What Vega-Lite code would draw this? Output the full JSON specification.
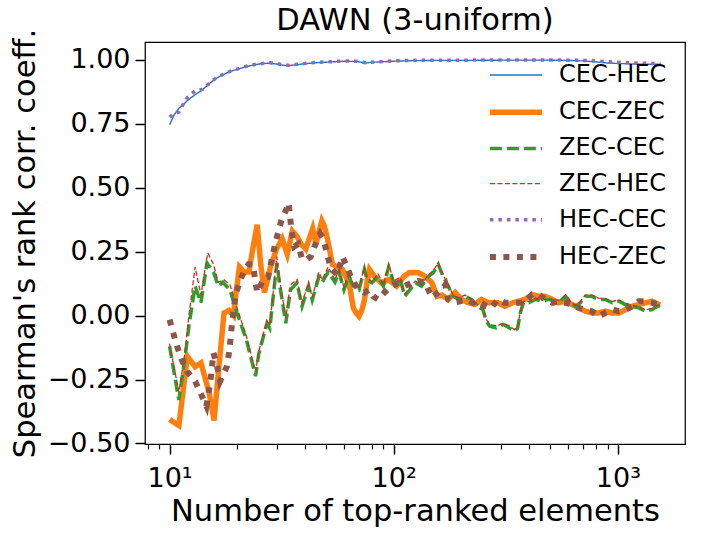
{
  "$schema": "https://vega.github.io/schema/vega-lite/v6.json",
  "width": 540,
  "height": 402,
  "autosize": "none",
  "padding": {"left": 145, "top": 42, "right": 21, "bottom": 90},
  "config": {
    "font": "DejaVu Sans",
    "view": {"stroke": "#000000", "strokeWidth": 1.25},
    "axis": {"grid": false, "domain": false, "tickColor": "#000000", "labelColor": "#000000", "titleColor": "#000000", "titleFontWeight": "normal"}
  },
  "title": {"text": "DAWN (3-uniform)", "fontSize": 30.5, "fontWeight": "normal", "font": "DejaVu Sans", "color": "#000000", "offset": 10, "dy": 18},
  "data": {"values": [
    {"s":"CEC-HEC","n":10,"v":0.746},{"s":"CEC-HEC","n":10.5,"v":0.785},{"s":"CEC-HEC","n":11,"v":0.81},{"s":"CEC-HEC","n":11.5,"v":0.824},{"s":"CEC-HEC","n":12,"v":0.84},{"s":"CEC-HEC","n":13,"v":0.863},{"s":"CEC-HEC","n":14,"v":0.882},{"s":"CEC-HEC","n":15,"v":0.905},{"s":"CEC-HEC","n":16,"v":0.925},{"s":"CEC-HEC","n":17,"v":0.938},{"s":"CEC-HEC","n":18,"v":0.948},{"s":"CEC-HEC","n":19,"v":0.956},{"s":"CEC-HEC","n":20,"v":0.962},{"s":"CEC-HEC","n":22,"v":0.973},{"s":"CEC-HEC","n":24,"v":0.98},{"s":"CEC-HEC","n":26,"v":0.985},{"s":"CEC-HEC","n":28,"v":0.986},{"s":"CEC-HEC","n":30,"v":0.983},{"s":"CEC-HEC","n":32,"v":0.978},{"s":"CEC-HEC","n":34,"v":0.977},{"s":"CEC-HEC","n":36,"v":0.979},{"s":"CEC-HEC","n":40,"v":0.984},{"s":"CEC-HEC","n":45,"v":0.988},{"s":"CEC-HEC","n":50,"v":0.99},{"s":"CEC-HEC","n":55,"v":0.992},{"s":"CEC-HEC","n":60,"v":0.994},{"s":"CEC-HEC","n":68,"v":0.993},{"s":"CEC-HEC","n":75,"v":0.987},{"s":"CEC-HEC","n":82,"v":0.99},{"s":"CEC-HEC","n":90,"v":0.992},{"s":"CEC-HEC","n":100,"v":0.994},{"s":"CEC-HEC","n":120,"v":0.996},{"s":"CEC-HEC","n":150,"v":0.997},{"s":"CEC-HEC","n":200,"v":0.997},{"s":"CEC-HEC","n":300,"v":0.998},{"s":"CEC-HEC","n":400,"v":0.998},{"s":"CEC-HEC","n":500,"v":0.998},{"s":"CEC-HEC","n":600,"v":0.997},{"s":"CEC-HEC","n":700,"v":0.995},{"s":"CEC-HEC","n":800,"v":0.991},{"s":"CEC-HEC","n":900,"v":0.987},{"s":"CEC-HEC","n":1000,"v":0.985},{"s":"CEC-HEC","n":1200,"v":0.983},{"s":"CEC-HEC","n":1400,"v":0.982},{"s":"CEC-HEC","n":1550,"v":0.982},

    {"s":"CEC-ZEC","n":10,"v":-0.406},{"s":"CEC-ZEC","n":11,"v":-0.43},{"s":"CEC-ZEC","n":12,"v":-0.16},{"s":"CEC-ZEC","n":13,"v":-0.2},{"s":"CEC-ZEC","n":13.8,"v":-0.185},{"s":"CEC-ZEC","n":15,"v":-0.3},{"s":"CEC-ZEC","n":15.8,"v":-0.41},{"s":"CEC-ZEC","n":16.6,"v":-0.2},{"s":"CEC-ZEC","n":17.5,"v":0.01},{"s":"CEC-ZEC","n":18.4,"v":0.02},{"s":"CEC-ZEC","n":19.3,"v":0.0},{"s":"CEC-ZEC","n":19.7,"v":0.075},{"s":"CEC-ZEC","n":20.5,"v":0.19},{"s":"CEC-ZEC","n":21.5,"v":0.17},{"s":"CEC-ZEC","n":22.6,"v":0.17},{"s":"CEC-ZEC","n":23.5,"v":0.26},{"s":"CEC-ZEC","n":24.6,"v":0.355},{"s":"CEC-ZEC","n":25.5,"v":0.2},{"s":"CEC-ZEC","n":26.5,"v":0.09},{"s":"CEC-ZEC","n":28.2,"v":0.19},{"s":"CEC-ZEC","n":30,"v":0.26},{"s":"CEC-ZEC","n":31.8,"v":0.3},{"s":"CEC-ZEC","n":33.5,"v":0.24},{"s":"CEC-ZEC","n":35.3,"v":0.33},{"s":"CEC-ZEC","n":37,"v":0.31},{"s":"CEC-ZEC","n":38.5,"v":0.28},{"s":"CEC-ZEC","n":40.5,"v":0.26},{"s":"CEC-ZEC","n":43.5,"v":0.34},{"s":"CEC-ZEC","n":45,"v":0.28},{"s":"CEC-ZEC","n":47.8,"v":0.37},{"s":"CEC-ZEC","n":49,"v":0.35},{"s":"CEC-ZEC","n":50.6,"v":0.3},{"s":"CEC-ZEC","n":53.3,"v":0.2},{"s":"CEC-ZEC","n":56,"v":0.19},{"s":"CEC-ZEC","n":59,"v":0.18},{"s":"CEC-ZEC","n":62,"v":0.14},{"s":"CEC-ZEC","n":64,"v":0.1},{"s":"CEC-ZEC","n":66,"v":0.03},{"s":"CEC-ZEC","n":68,"v":0.01},{"s":"CEC-ZEC","n":70,"v":-0.003},{"s":"CEC-ZEC","n":72,"v":0.02},{"s":"CEC-ZEC","n":74,"v":0.06},{"s":"CEC-ZEC","n":76,"v":0.13},{"s":"CEC-ZEC","n":78,"v":0.18},{"s":"CEC-ZEC","n":82,"v":0.153},{"s":"CEC-ZEC","n":88,"v":0.128},{"s":"CEC-ZEC","n":95,"v":0.14},{"s":"CEC-ZEC","n":103,"v":0.115},{"s":"CEC-ZEC","n":111,"v":0.153},{"s":"CEC-ZEC","n":117,"v":0.167},{"s":"CEC-ZEC","n":129,"v":0.167},{"s":"CEC-ZEC","n":138,"v":0.153},{"s":"CEC-ZEC","n":148,"v":0.128},{"s":"CEC-ZEC","n":156,"v":0.075},{"s":"CEC-ZEC","n":164,"v":0.08},{"s":"CEC-ZEC","n":175,"v":0.063},{"s":"CEC-ZEC","n":188,"v":0.09},{"s":"CEC-ZEC","n":201,"v":0.063},{"s":"CEC-ZEC","n":215,"v":0.05},{"s":"CEC-ZEC","n":230,"v":0.043},{"s":"CEC-ZEC","n":246,"v":0.063},{"s":"CEC-ZEC","n":264,"v":0.05},{"s":"CEC-ZEC","n":292,"v":0.05},{"s":"CEC-ZEC","n":313,"v":0.036},{"s":"CEC-ZEC","n":340,"v":0.05},{"s":"CEC-ZEC","n":360,"v":0.056},{"s":"CEC-ZEC","n":385,"v":0.063},{"s":"CEC-ZEC","n":415,"v":0.082},{"s":"CEC-ZEC","n":445,"v":0.075},{"s":"CEC-ZEC","n":475,"v":0.075},{"s":"CEC-ZEC","n":510,"v":0.063},{"s":"CEC-ZEC","n":543,"v":0.05},{"s":"CEC-ZEC","n":584,"v":0.056},{"s":"CEC-ZEC","n":625,"v":0.043},{"s":"CEC-ZEC","n":670,"v":0.03},{"s":"CEC-ZEC","n":716,"v":0.017},{"s":"CEC-ZEC","n":766,"v":0.01},{"s":"CEC-ZEC","n":820,"v":0.01},{"s":"CEC-ZEC","n":880,"v":0.017},{"s":"CEC-ZEC","n":943,"v":0.01},{"s":"CEC-ZEC","n":1010,"v":0.01},{"s":"CEC-ZEC","n":1080,"v":0.023},{"s":"CEC-ZEC","n":1160,"v":0.036},{"s":"CEC-ZEC","n":1240,"v":0.043},{"s":"CEC-ZEC","n":1330,"v":0.05},{"s":"CEC-ZEC","n":1420,"v":0.056},{"s":"CEC-ZEC","n":1525,"v":0.043},{"s":"CEC-ZEC","n":1550,"v":0.042},

    {"s":"ZEC-CEC","n":10,"v":-0.12},{"s":"ZEC-CEC","n":11,"v":-0.33},{"s":"ZEC-CEC","n":11.7,"v":-0.17},{"s":"ZEC-CEC","n":12.2,"v":-0.04},{"s":"ZEC-CEC","n":13,"v":0.115},{"s":"ZEC-CEC","n":13.8,"v":0.05},{"s":"ZEC-CEC","n":14.7,"v":0.205},{"s":"ZEC-CEC","n":15.7,"v":0.17},{"s":"ZEC-CEC","n":16.5,"v":0.115},{"s":"ZEC-CEC","n":17.3,"v":0.13},{"s":"ZEC-CEC","n":18.6,"v":0.1},{"s":"ZEC-CEC","n":20,"v":0.01},{"s":"ZEC-CEC","n":22,"v":-0.094},{"s":"ZEC-CEC","n":24.2,"v":-0.237},{"s":"ZEC-CEC","n":25,"v":-0.15},{"s":"ZEC-CEC","n":27.2,"v":-0.03},{"s":"ZEC-CEC","n":28,"v":-0.05},{"s":"ZEC-CEC","n":30.1,"v":0.205},{"s":"ZEC-CEC","n":31,"v":0.12},{"s":"ZEC-CEC","n":33,"v":-0.03},{"s":"ZEC-CEC","n":34.6,"v":0.1},{"s":"ZEC-CEC","n":37,"v":0.128},{"s":"ZEC-CEC","n":39,"v":0.036},{"s":"ZEC-CEC","n":41.7,"v":0.115},{"s":"ZEC-CEC","n":43.3,"v":0.06},{"s":"ZEC-CEC","n":46.3,"v":0.15},{"s":"ZEC-CEC","n":47.9,"v":0.13},{"s":"ZEC-CEC","n":51,"v":0.17},{"s":"ZEC-CEC","n":54.7,"v":0.13},{"s":"ZEC-CEC","n":57,"v":0.17},{"s":"ZEC-CEC","n":60,"v":0.1},{"s":"ZEC-CEC","n":63,"v":0.153},{"s":"ZEC-CEC","n":66,"v":0.115},{"s":"ZEC-CEC","n":70,"v":0.1},{"s":"ZEC-CEC","n":74,"v":0.18},{"s":"ZEC-CEC","n":76,"v":0.14},{"s":"ZEC-CEC","n":80,"v":0.128},{"s":"ZEC-CEC","n":85,"v":0.153},{"s":"ZEC-CEC","n":90,"v":0.115},{"s":"ZEC-CEC","n":95,"v":0.19},{"s":"ZEC-CEC","n":100,"v":0.128},{"s":"ZEC-CEC","n":107,"v":0.14},{"s":"ZEC-CEC","n":112,"v":0.075},{"s":"ZEC-CEC","n":118,"v":0.1},{"s":"ZEC-CEC","n":125,"v":0.128},{"s":"ZEC-CEC","n":133,"v":0.115},{"s":"ZEC-CEC","n":143,"v":0.153},{"s":"ZEC-CEC","n":150,"v":0.167},{"s":"ZEC-CEC","n":158,"v":0.2},{"s":"ZEC-CEC","n":166,"v":0.153},{"s":"ZEC-CEC","n":175,"v":0.115},{"s":"ZEC-CEC","n":184,"v":0.075},{"s":"ZEC-CEC","n":195,"v":0.063},{"s":"ZEC-CEC","n":208,"v":0.075},{"s":"ZEC-CEC","n":222,"v":0.063},{"s":"ZEC-CEC","n":238,"v":0.036},{"s":"ZEC-CEC","n":250,"v":0.023},{"s":"ZEC-CEC","n":259,"v":-0.022},{"s":"ZEC-CEC","n":268,"v":-0.042},{"s":"ZEC-CEC","n":287,"v":-0.048},{"s":"ZEC-CEC","n":309,"v":-0.035},{"s":"ZEC-CEC","n":327,"v":-0.048},{"s":"ZEC-CEC","n":346,"v":-0.06},{"s":"ZEC-CEC","n":357,"v":-0.05},{"s":"ZEC-CEC","n":367,"v":0.01},{"s":"ZEC-CEC","n":379,"v":0.05},{"s":"ZEC-CEC","n":400,"v":0.05},{"s":"ZEC-CEC","n":429,"v":0.063},{"s":"ZEC-CEC","n":459,"v":0.056},{"s":"ZEC-CEC","n":491,"v":0.063},{"s":"ZEC-CEC","n":525,"v":0.056},{"s":"ZEC-CEC","n":552,"v":0.056},{"s":"ZEC-CEC","n":584,"v":0.075},{"s":"ZEC-CEC","n":615,"v":0.05},{"s":"ZEC-CEC","n":647,"v":0.036},{"s":"ZEC-CEC","n":680,"v":0.05},{"s":"ZEC-CEC","n":716,"v":0.075},{"s":"ZEC-CEC","n":766,"v":0.075},{"s":"ZEC-CEC","n":820,"v":0.063},{"s":"ZEC-CEC","n":878,"v":0.063},{"s":"ZEC-CEC","n":943,"v":0.05},{"s":"ZEC-CEC","n":1010,"v":0.056},{"s":"ZEC-CEC","n":1080,"v":0.043},{"s":"ZEC-CEC","n":1160,"v":0.036},{"s":"ZEC-CEC","n":1240,"v":0.03},{"s":"ZEC-CEC","n":1330,"v":0.017},{"s":"ZEC-CEC","n":1420,"v":0.023},{"s":"ZEC-CEC","n":1500,"v":0.036},{"s":"ZEC-CEC","n":1550,"v":0.04},

    {"s":"ZEC-HEC","n":10,"v":-0.11},{"s":"ZEC-HEC","n":11,"v":-0.3},{"s":"ZEC-HEC","n":11.7,"v":-0.15},{"s":"ZEC-HEC","n":12.2,"v":0.0},{"s":"ZEC-HEC","n":13,"v":0.19},{"s":"ZEC-HEC","n":13.8,"v":0.08},{"s":"ZEC-HEC","n":14.8,"v":0.245},{"s":"ZEC-HEC","n":15.7,"v":0.2},{"s":"ZEC-HEC","n":16.5,"v":0.13},{"s":"ZEC-HEC","n":17.5,"v":0.14},{"s":"ZEC-HEC","n":18.6,"v":0.12},{"s":"ZEC-HEC","n":20,"v":0.03},{"s":"ZEC-HEC","n":22,"v":-0.08},{"s":"ZEC-HEC","n":24.2,"v":-0.22},{"s":"ZEC-HEC","n":25,"v":-0.14},{"s":"ZEC-HEC","n":27.2,"v":-0.02},{"s":"ZEC-HEC","n":28,"v":-0.04},{"s":"ZEC-HEC","n":30.1,"v":0.23},{"s":"ZEC-HEC","n":31,"v":0.14},{"s":"ZEC-HEC","n":33,"v":-0.01},{"s":"ZEC-HEC","n":34.6,"v":0.12},{"s":"ZEC-HEC","n":37,"v":0.14},{"s":"ZEC-HEC","n":39,"v":0.05},{"s":"ZEC-HEC","n":41.7,"v":0.13},{"s":"ZEC-HEC","n":43.3,"v":0.07},{"s":"ZEC-HEC","n":46.3,"v":0.17},{"s":"ZEC-HEC","n":47.9,"v":0.14},{"s":"ZEC-HEC","n":51,"v":0.19},{"s":"ZEC-HEC","n":54.7,"v":0.14},{"s":"ZEC-HEC","n":57,"v":0.18},{"s":"ZEC-HEC","n":60,"v":0.11},{"s":"ZEC-HEC","n":63,"v":0.17},{"s":"ZEC-HEC","n":66,"v":0.12},{"s":"ZEC-HEC","n":70,"v":0.11},{"s":"ZEC-HEC","n":74,"v":0.19},{"s":"ZEC-HEC","n":76,"v":0.15},{"s":"ZEC-HEC","n":80,"v":0.13},{"s":"ZEC-HEC","n":85,"v":0.165},{"s":"ZEC-HEC","n":90,"v":0.12},{"s":"ZEC-HEC","n":95,"v":0.2},{"s":"ZEC-HEC","n":100,"v":0.135},{"s":"ZEC-HEC","n":107,"v":0.15},{"s":"ZEC-HEC","n":112,"v":0.085},{"s":"ZEC-HEC","n":118,"v":0.11},{"s":"ZEC-HEC","n":125,"v":0.135},{"s":"ZEC-HEC","n":133,"v":0.12},{"s":"ZEC-HEC","n":143,"v":0.16},{"s":"ZEC-HEC","n":150,"v":0.175},{"s":"ZEC-HEC","n":158,"v":0.205},{"s":"ZEC-HEC","n":166,"v":0.16},{"s":"ZEC-HEC","n":175,"v":0.12},{"s":"ZEC-HEC","n":184,"v":0.08},{"s":"ZEC-HEC","n":195,"v":0.07},{"s":"ZEC-HEC","n":208,"v":0.08},{"s":"ZEC-HEC","n":222,"v":0.065},{"s":"ZEC-HEC","n":238,"v":0.04},{"s":"ZEC-HEC","n":250,"v":0.03},{"s":"ZEC-HEC","n":259,"v":-0.015},{"s":"ZEC-HEC","n":268,"v":-0.035},{"s":"ZEC-HEC","n":287,"v":-0.04},{"s":"ZEC-HEC","n":309,"v":-0.03},{"s":"ZEC-HEC","n":327,"v":-0.04},{"s":"ZEC-HEC","n":346,"v":-0.055},{"s":"ZEC-HEC","n":357,"v":-0.045},{"s":"ZEC-HEC","n":367,"v":0.015},{"s":"ZEC-HEC","n":379,"v":0.055},{"s":"ZEC-HEC","n":400,"v":0.055},{"s":"ZEC-HEC","n":429,"v":0.068},{"s":"ZEC-HEC","n":459,"v":0.06},{"s":"ZEC-HEC","n":491,"v":0.066},{"s":"ZEC-HEC","n":525,"v":0.06},{"s":"ZEC-HEC","n":552,"v":0.06},{"s":"ZEC-HEC","n":584,"v":0.08},{"s":"ZEC-HEC","n":615,"v":0.055},{"s":"ZEC-HEC","n":647,"v":0.04},{"s":"ZEC-HEC","n":680,"v":0.055},{"s":"ZEC-HEC","n":716,"v":0.08},{"s":"ZEC-HEC","n":766,"v":0.08},{"s":"ZEC-HEC","n":820,"v":0.068},{"s":"ZEC-HEC","n":878,"v":0.066},{"s":"ZEC-HEC","n":943,"v":0.055},{"s":"ZEC-HEC","n":1010,"v":0.06},{"s":"ZEC-HEC","n":1080,"v":0.048},{"s":"ZEC-HEC","n":1160,"v":0.04},{"s":"ZEC-HEC","n":1240,"v":0.035},{"s":"ZEC-HEC","n":1330,"v":0.022},{"s":"ZEC-HEC","n":1420,"v":0.028},{"s":"ZEC-HEC","n":1500,"v":0.04},{"s":"ZEC-HEC","n":1550,"v":0.042},

    {"s":"HEC-CEC","n":10,"v":0.775},{"s":"HEC-CEC","n":10.5,"v":0.79},{"s":"HEC-CEC","n":11,"v":0.795},{"s":"HEC-CEC","n":11.5,"v":0.825},{"s":"HEC-CEC","n":12,"v":0.852},{"s":"HEC-CEC","n":13,"v":0.878},{"s":"HEC-CEC","n":14,"v":0.884},{"s":"HEC-CEC","n":15,"v":0.906},{"s":"HEC-CEC","n":16,"v":0.927},{"s":"HEC-CEC","n":17,"v":0.939},{"s":"HEC-CEC","n":18,"v":0.95},{"s":"HEC-CEC","n":19,"v":0.957},{"s":"HEC-CEC","n":20,"v":0.963},{"s":"HEC-CEC","n":22,"v":0.974},{"s":"HEC-CEC","n":24,"v":0.981},{"s":"HEC-CEC","n":26,"v":0.985},{"s":"HEC-CEC","n":28,"v":0.988},{"s":"HEC-CEC","n":30,"v":0.985},{"s":"HEC-CEC","n":32,"v":0.98},{"s":"HEC-CEC","n":34,"v":0.978},{"s":"HEC-CEC","n":36,"v":0.981},{"s":"HEC-CEC","n":40,"v":0.985},{"s":"HEC-CEC","n":45,"v":0.989},{"s":"HEC-CEC","n":50,"v":0.991},{"s":"HEC-CEC","n":55,"v":0.993},{"s":"HEC-CEC","n":60,"v":0.995},{"s":"HEC-CEC","n":68,"v":0.994},{"s":"HEC-CEC","n":75,"v":0.988},{"s":"HEC-CEC","n":82,"v":0.991},{"s":"HEC-CEC","n":90,"v":0.993},{"s":"HEC-CEC","n":100,"v":0.995},{"s":"HEC-CEC","n":120,"v":0.997},{"s":"HEC-CEC","n":150,"v":0.998},{"s":"HEC-CEC","n":200,"v":0.998},{"s":"HEC-CEC","n":300,"v":0.999},{"s":"HEC-CEC","n":400,"v":0.999},{"s":"HEC-CEC","n":500,"v":0.999},{"s":"HEC-CEC","n":600,"v":0.998},{"s":"HEC-CEC","n":700,"v":0.997},{"s":"HEC-CEC","n":800,"v":0.995},{"s":"HEC-CEC","n":900,"v":0.992},{"s":"HEC-CEC","n":1000,"v":0.99},{"s":"HEC-CEC","n":1200,"v":0.987},{"s":"HEC-CEC","n":1400,"v":0.985},{"s":"HEC-CEC","n":1550,"v":0.984},

    {"s":"HEC-ZEC","n":10,"v":-0.016},{"s":"HEC-ZEC","n":10.4,"v":-0.07},{"s":"HEC-ZEC","n":10.8,"v":-0.12},{"s":"HEC-ZEC","n":11.3,"v":-0.17},{"s":"HEC-ZEC","n":12,"v":-0.22},{"s":"HEC-ZEC","n":13,"v":-0.257},{"s":"HEC-ZEC","n":13.7,"v":-0.3},{"s":"HEC-ZEC","n":14.6,"v":-0.354},{"s":"HEC-ZEC","n":15.2,"v":-0.26},{"s":"HEC-ZEC","n":15.7,"v":-0.146},{"s":"HEC-ZEC","n":16.3,"v":-0.198},{"s":"HEC-ZEC","n":16.8,"v":-0.257},{"s":"HEC-ZEC","n":18,"v":-0.2},{"s":"HEC-ZEC","n":18.5,"v":-0.133},{"s":"HEC-ZEC","n":19,"v":-0.03},{"s":"HEC-ZEC","n":19.7,"v":0.08},{"s":"HEC-ZEC","n":20.7,"v":0.14},{"s":"HEC-ZEC","n":21.7,"v":0.18},{"s":"HEC-ZEC","n":22.5,"v":0.2},{"s":"HEC-ZEC","n":23.5,"v":0.2},{"s":"HEC-ZEC","n":24.6,"v":0.09},{"s":"HEC-ZEC","n":26.4,"v":0.147},{"s":"HEC-ZEC","n":27.5,"v":0.15},{"s":"HEC-ZEC","n":28.9,"v":0.24},{"s":"HEC-ZEC","n":30,"v":0.3},{"s":"HEC-ZEC","n":31.5,"v":0.37},{"s":"HEC-ZEC","n":33,"v":0.41},{"s":"HEC-ZEC","n":34,"v":0.44},{"s":"HEC-ZEC","n":35,"v":0.33},{"s":"HEC-ZEC","n":36,"v":0.27},{"s":"HEC-ZEC","n":37.5,"v":0.28},{"s":"HEC-ZEC","n":39,"v":0.22},{"s":"HEC-ZEC","n":41,"v":0.22},{"s":"HEC-ZEC","n":42.6,"v":0.23},{"s":"HEC-ZEC","n":44.8,"v":0.28},{"s":"HEC-ZEC","n":47,"v":0.32},{"s":"HEC-ZEC","n":48.6,"v":0.3},{"s":"HEC-ZEC","n":50.3,"v":0.245},{"s":"HEC-ZEC","n":51.5,"v":0.21},{"s":"HEC-ZEC","n":53,"v":0.18},{"s":"HEC-ZEC","n":56,"v":0.16},{"s":"HEC-ZEC","n":59,"v":0.23},{"s":"HEC-ZEC","n":62,"v":0.19},{"s":"HEC-ZEC","n":65,"v":0.14},{"s":"HEC-ZEC","n":70,"v":0.1},{"s":"HEC-ZEC","n":74,"v":0.09},{"s":"HEC-ZEC","n":77.5,"v":0.1},{"s":"HEC-ZEC","n":81,"v":0.075},{"s":"HEC-ZEC","n":85,"v":0.063},{"s":"HEC-ZEC","n":91,"v":0.09},{"s":"HEC-ZEC","n":98,"v":0.115},{"s":"HEC-ZEC","n":105,"v":0.128},{"s":"HEC-ZEC","n":112,"v":0.115},{"s":"HEC-ZEC","n":120,"v":0.128},{"s":"HEC-ZEC","n":129,"v":0.135},{"s":"HEC-ZEC","n":138,"v":0.13},{"s":"HEC-ZEC","n":148,"v":0.07},{"s":"HEC-ZEC","n":158,"v":0.09},{"s":"HEC-ZEC","n":164,"v":0.1},{"s":"HEC-ZEC","n":170,"v":0.12},{"s":"HEC-ZEC","n":175,"v":0.063},{"s":"HEC-ZEC","n":184,"v":0.05},{"s":"HEC-ZEC","n":198,"v":0.056},{"s":"HEC-ZEC","n":212,"v":0.063},{"s":"HEC-ZEC","n":226,"v":0.05},{"s":"HEC-ZEC","n":242,"v":0.056},{"s":"HEC-ZEC","n":259,"v":0.036},{"s":"HEC-ZEC","n":272,"v":0.03},{"s":"HEC-ZEC","n":292,"v":0.063},{"s":"HEC-ZEC","n":313,"v":0.05},{"s":"HEC-ZEC","n":327,"v":0.05},{"s":"HEC-ZEC","n":357,"v":0.05},{"s":"HEC-ZEC","n":379,"v":0.05},{"s":"HEC-ZEC","n":415,"v":0.082},{"s":"HEC-ZEC","n":445,"v":0.082},{"s":"HEC-ZEC","n":475,"v":0.063},{"s":"HEC-ZEC","n":510,"v":0.05},{"s":"HEC-ZEC","n":543,"v":0.055},{"s":"HEC-ZEC","n":584,"v":0.05},{"s":"HEC-ZEC","n":625,"v":0.043},{"s":"HEC-ZEC","n":670,"v":0.03},{"s":"HEC-ZEC","n":716,"v":0.023},{"s":"HEC-ZEC","n":766,"v":0.017},{"s":"HEC-ZEC","n":820,"v":-0.003},{"s":"HEC-ZEC","n":878,"v":0.01},{"s":"HEC-ZEC","n":943,"v":0.023},{"s":"HEC-ZEC","n":1010,"v":0.017},{"s":"HEC-ZEC","n":1080,"v":0.023},{"s":"HEC-ZEC","n":1160,"v":0.036},{"s":"HEC-ZEC","n":1240,"v":0.056},{"s":"HEC-ZEC","n":1330,"v":0.056},{"s":"HEC-ZEC","n":1420,"v":0.05},{"s":"HEC-ZEC","n":1500,"v":0.043},{"s":"HEC-ZEC","n":1550,"v":0.045}
  ]},
  "resolve": {"axis": {"x": "independent"}},
  "layer": [
    {
      "mark": {"type": "line", "clip": true},
      "encoding": {
        "x": {"field": "n", "type": "quantitative",
          "scale": {"type": "log", "domain": [7.77, 1993], "nice": false},
          "axis": {"orient": "bottom", "values": [10, 100, 1000],
            "labelExpr": "datum.value == 10 ? '10¹' : datum.value == 100 ? '10²' : '10³'",
            "labelFontSize": 27, "labelPadding": 11, "tickSize": 10, "tickWidth": 1.5,
            "title": "Number of top-ranked elements", "titleFontSize": 30.5, "titlePadding": 5}},
        "y": {"field": "v", "type": "quantitative",
          "scale": {"domain": [-0.502, 1.069], "nice": false, "zero": false},
          "axis": {"values": [-0.5, -0.25, 0, 0.25, 0.5, 0.75, 1.0],
            "labelExpr": "datum.value < 0 ? '\u2212' + format(-datum.value, '.2f') : format(datum.value, '.2f')",
            "labelFontSize": 27, "labelPadding": 5, "tickSize": 10, "tickWidth": 1.5,
            "title": "Spearman's rank corr. coeff.", "titleFontSize": 30.5, "titlePadding": 7}},
        "color": {"field": "s", "type": "nominal",
          "scale": {"domain": ["CEC-HEC", "CEC-ZEC", "ZEC-CEC", "ZEC-HEC", "HEC-CEC", "HEC-ZEC"],
            "range": ["#1f77b4", "#ff7f0e", "#2ca02c", "#d62728", "#9467bd", "#8c564b"]},
          "legend": {"title": null, "orient": "none", "legendX": 350, "legendY": 14,
            "symbolType": "M-1.45,0H1.45", "symbolSize": 1296, "labelFontSize": 24, "labelOffset": 22,
            "rowPadding": 4.2, "padding": 0, "labelColor": "#000000", "symbolFillColor": "transparent"}},
        "strokeDash": {"field": "s", "type": "nominal",
          "scale": {"type": "ordinal", "domain": ["CEC-HEC", "CEC-ZEC", "ZEC-CEC", "ZEC-HEC", "HEC-CEC", "HEC-ZEC"],
            "range": [[1, 0], [1, 0], [12, 5], [5, 2.5], [3.5, 5], [6, 7.5]]},
          "legend": {"title": null, "orient": "none", "legendX": 350, "legendY": 14,
            "symbolType": "M-1.45,0H1.45", "symbolSize": 1296, "labelFontSize": 24, "labelOffset": 22,
            "rowPadding": 4.2, "padding": 0, "labelColor": "#000000", "symbolFillColor": "transparent"}},
        "strokeWidth": {"field": "s", "type": "nominal",
          "scale": {"type": "ordinal", "domain": ["CEC-HEC", "CEC-ZEC", "ZEC-CEC", "ZEC-HEC", "HEC-CEC", "HEC-ZEC"],
            "range": [1.4, 5.5, 3.5, 1.3, 3.5, 6]},
          "legend": {"title": null, "orient": "none", "legendX": 350, "legendY": 14,
            "symbolType": "M-1.45,0H1.45", "symbolSize": 1296, "labelFontSize": 24, "labelOffset": 22,
            "rowPadding": 4.2, "padding": 0, "labelColor": "#000000", "symbolFillColor": "transparent"}}
      }
    },
    {
      "mark": {"type": "point", "opacity": 0},
      "encoding": {
        "x": {"field": "n", "type": "quantitative",
          "scale": {"type": "log", "domain": [7.77, 1993], "nice": false},
          "axis": {"orient": "bottom", "values": [8, 9, 20, 30, 40, 50, 60, 70, 80, 90, 200, 300, 400, 500, 600, 700, 800, 900],
            "labels": false, "tickSize": 5, "tickWidth": 1.2, "title": null}}
      }
    }
  ]
}
